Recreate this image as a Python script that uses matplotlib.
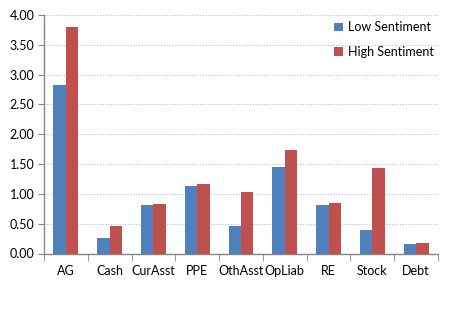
import matplotlib
matplotlib.use("Agg")
import matplotlib.pyplot as plt
import numpy as np

categories = ["AG", "Cash", "CurAsst", "PPE", "OthAsst", "OpLiab", "RE", "Stock", "Debt"]
low_sentiment = [2.82, 0.26, 0.81, 1.13, 0.46, 1.45, 0.81, 0.39, 0.16]
high_sentiment = [3.80, 0.46, 0.83, 1.17, 1.03, 1.74, 0.84, 1.43, 0.17]
yticks = [0.0, 0.5, 1.0, 1.5, 2.0, 2.5, 3.0, 3.5, 4.0]

plt.rcParams['font.family'] = ['Lato', 'DejaVu Sans']

fig = plt.figure(figsize=(4.65, 3.27), dpi=100)
ax = fig.add_axes([44/465, 73.5/327, (438-44)/465, (253.5-15)/327])

x = np.arange(len(categories))
w = 0.285
ax.bar(x - w/2, low_sentiment, w, color="#4F81BD", label="Low Sentiment", zorder=3)
ax.bar(x + w/2, high_sentiment, w, color="#C0504D", label="High Sentiment", zorder=3)

ax.set_xlim(-0.5, len(categories) - 0.5)
ax.set_ylim(0, 4.0)
ax.set_yticks(yticks)
ax.set_yticklabels([f"{v:.2f}" for v in yticks], fontsize=9)
ax.set_xticks(x)
ax.set_xticklabels(categories, fontsize=9)
ax.set_xticks(np.arange(len(categories) + 1) - 0.5, minor=True)
ax.tick_params(axis='x', which='major', length=0, pad=8)
ax.tick_params(axis='x', which='minor', length=5, color="#868686", direction='out')
ax.tick_params(axis='y', length=4, color="#868686", direction='out', pad=3)

for s in ["top", "right"]:
    ax.spines[s].set_visible(False)
for s in ["left", "bottom"]:
    ax.spines[s].set_color("#868686")
    ax.spines[s].set_linewidth(1.0)

ax.yaxis.grid(True, linestyle=(0, (1, 1.5)), color="#A9BFE6", linewidth=0.8, zorder=0)
ax.set_axisbelow(True)

leg = ax.legend(loc="upper right", bbox_to_anchor=(1.018, 1.02), frameon=False, fontsize=9,
                handlelength=0.7, handleheight=0.7, handletextpad=0.4, labelspacing=1.0)

fig.savefig("out.png", dpi=100)
